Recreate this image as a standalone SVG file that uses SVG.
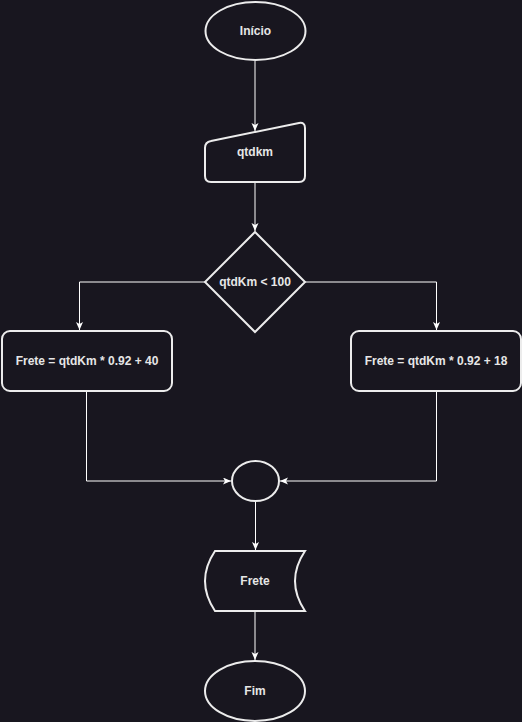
<svg xmlns="http://www.w3.org/2000/svg" width="522" height="722" viewBox="0 0 522 722">
  <style>
    .shape { fill: #18161f; stroke: #ececec; stroke-width: 2; }
    .edge { fill: none; stroke: #ffffff; stroke-width: 1; }
    .label { font-family: "Liberation Sans", Arial, sans-serif; font-size: 12px; font-weight: bold; fill: #e6e6e6; text-anchor: middle; dominant-baseline: central; }
  </style>
  <defs>
    <marker id="arrow" markerUnits="userSpaceOnUse" markerWidth="9" markerHeight="8" refX="8" refY="3.5" orient="auto">
      <path d="M0,0 L8,3.5 L0,7 L2,3.5 Z" fill="#ffffff"/>
    </marker>
  </defs>
  <rect width="522" height="722" fill="#18161f"/>

  <g id="connectors">
    <path class="edge" d="M255,61 L255,131" marker-end="url(#arrow)"/>
    <path class="edge" d="M255,182 L255,231" marker-end="url(#arrow)"/>
    <path class="edge" d="M205,282 L79.5,282 L79.5,330" marker-end="url(#arrow)"/>
    <path class="edge" d="M305,282 L436.5,282 L436.5,330" marker-end="url(#arrow)"/>
    <path class="edge" d="M86.5,391 L86.5,481 L231,481" marker-end="url(#arrow)"/>
    <path class="edge" d="M436.5,391 L436.5,481 L280,481" marker-end="url(#arrow)"/>
    <path class="edge" d="M255.5,501 L255.5,550" marker-end="url(#arrow)"/>
    <path class="edge" d="M255,611 L255,660" marker-end="url(#arrow)"/>
  </g>

  <g id="inicio">
    <ellipse class="shape" cx="255.5" cy="31" rx="50" ry="29"/>
    <text class="label" x="255.5" y="31">Início</text>
  </g>

  <g id="entrada-qtdkm">
    <path class="shape" d="M205,148 Q205,142 211,141 L299,123 Q305,122 305,128 L305,176 Q305,182 299,182 L211,182 Q205,182 205,176 Z"/>
    <text class="label" x="255" y="152">qtdkm</text>
  </g>

  <g id="decisao">
    <path class="shape" d="M255,232 L305,282 L255,332 L205,282 Z"/>
    <text class="label" x="255" y="282">qtdKm &lt; 100</text>
  </g>

  <g id="frete-40">
    <rect class="shape" x="2" y="331" width="170" height="60" rx="8" ry="8"/>
    <text class="label" x="87" y="361">Frete = qtdKm * 0.92 + 40</text>
  </g>

  <g id="frete-18">
    <rect class="shape" x="351" y="331" width="170" height="60" rx="8" ry="8"/>
    <text class="label" x="436" y="361">Frete = qtdKm * 0.92 + 18</text>
  </g>

  <g id="juncao">
    <ellipse class="shape" cx="255.5" cy="481" rx="23.5" ry="20"/>
  </g>

  <g id="saida-frete">
    <path class="shape" d="M215,551 L305,551 Q285,581 305,611 L215,611 Q195,581 215,551 Z"/>
    <text class="label" x="255" y="581">Frete</text>
  </g>

  <g id="fim">
    <ellipse class="shape" cx="255" cy="691" rx="50" ry="30"/>
    <text class="label" x="255" y="691">Fim</text>
  </g>
</svg>
